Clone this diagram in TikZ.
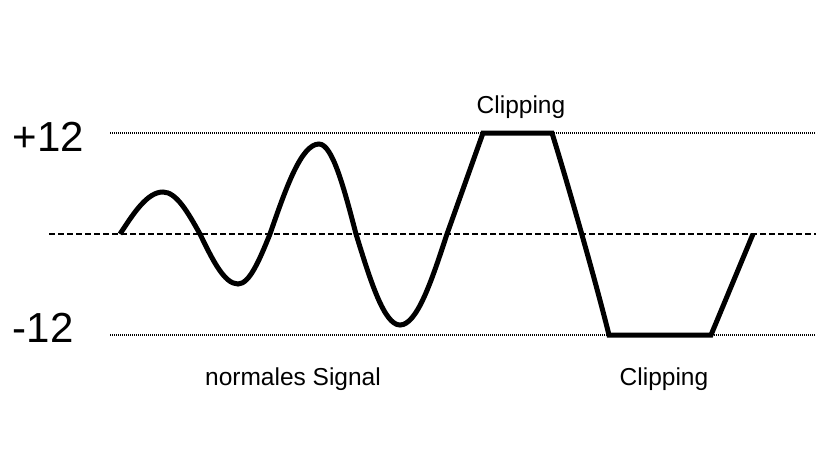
\documentclass[tikz,border=0pt]{standalone}
\usepackage{fontspec}
\setmainfont{Liberation Sans}
\usetikzlibrary{positioning, calc}

\begin{document}
\begin{tikzpicture}[
    x=1pt, y=-1pt,
    level/.style={text=black, font=\fontsize{42}{46}\selectfont, inner sep=0pt, anchor=base west},
    caption/.style={text=black, font=\fontsize{24.5}{29}\selectfont, inner sep=0pt, anchor=base},
    limitline/.style={draw, line width=1.2pt, dash pattern=on 1pt off 1pt},
    zeroline/.style={draw, line width=1.5pt, dash pattern=on 6pt off 3pt},
    wave/.style={draw, line width=5pt, line join=miter, line cap=butt}
]
    \useasboundingbox (0,0) rectangle (840,472);

    % Nodes
    \node [level] (plus) at (12.5,151) {+12};
    \node [level] (minus) at (12.5,342) {-12};

    \node [caption] (cliptop) at (521,113) {Clipping};
    \node [caption] (clipbottom) at (664,385) {Clipping};
    \node [caption] (normal) at (293,385) {normales Signal};

    % Reference lines
    \path [limitline] (110,133) -- (816,133);
    \path [limitline] (110,335) -- (816,335);
    \path [zeroline] (49,234) -- (816,234);

    % Signal
    \path [wave] (120,234) sin (163,192) cos (200,234) sin (238,284) cos (270,234)
        sin (319,144) cos (356,234) sin (400,325) cos (447,234)
        -- (483,133) -- (552,133)
        .. controls (566,178) and (594,275) .. (609,335)
        -- (711,335) -- (753,234);

\end{tikzpicture}
\end{document}
